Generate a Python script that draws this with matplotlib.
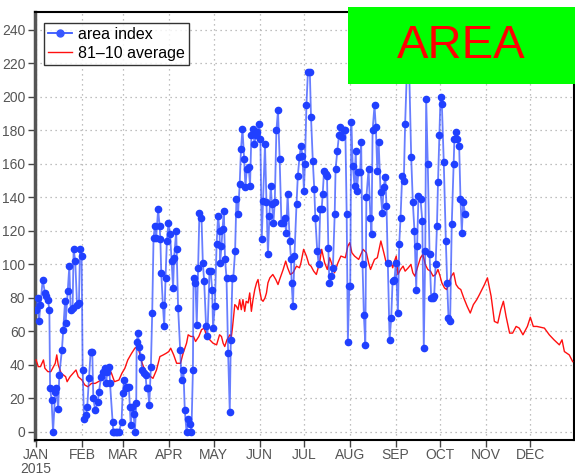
import matplotlib
matplotlib.use('Agg')
import matplotlib.pyplot as plt
from matplotlib.patches import Rectangle
import numpy as np

# daily area index, 2015 (day of year from Jan 1)
area_day = [0, 1, 2, 3, 4.5, 6, 7, 8, 9, 9.5, 10.5, 11.5, 13, 13.5, 15, 15.7, 17.5, 18.4, 19.6, 20,
            21.4, 22.5, 23.4, 24.7, 25.4, 26.5, 27.7, 29, 29.7, 30.8, 31.5, 32.4, 33.7, 34.6, 35.8,
            36.9, 38, 38.7, 40, 41.8, 42.5, 44, 45, 46.4, 47.5, 48, 49.5, 50, 51.7, 52.2, 53, 54, 55,
            56, 57.8, 58.5, 59.6, 60.7, 61.5, 62.7, 63.4, 64, 65, 65.9, 66.8, 67.7, 68, 69, 69.5, 71,
            71.7, 73, 74, 74.7, 75.6, 76.5, 77.6, 78.5, 79.4, 80.3, 81.2, 82.5, 83.5, 84, 84.6, 85.7,
            86.6, 87.5, 88.4, 89.5, 90.6, 91.6, 92.6, 93.3, 94.7, 95, 96, 97.4, 98.3, 99.6, 100.5,
            101.7, 102.8, 104, 105, 106, 106.4, 107.7, 108.6, 109.5, 110.4, 111.8, 112.7, 113.6,
            114.9, 115.8, 117.2, 118, 119, 119.6, 120.8, 122, 123, 124, 124.4, 125.3, 126, 126.9,
            127.7, 128.7, 129.8, 130.9, 131.6, 132.7, 133.3, 134.5, 135.4, 136.5, 137.6, 138.5,
            139.5, 140.6, 141.5, 142.4, 143.7, 144.6, 145.5, 146.6, 147.6, 148.5, 149.6, 150.7,
            151.6, 152.5, 153.4, 154.7, 155.7, 156.7, 157.7, 158.6, 159.4, 160.4, 161.3, 162.4,
            163.5, 164.6, 165.8, 166.7, 168, 169, 170, 171.4, 172.3, 172.7, 173.6, 174.6, 176, 176.9,
            178, 179, 180, 181, 181.7, 182.7, 183.7, 185, 185.8, 187, 188, 188.7, 190, 191, 192, 193,
            193.7, 194.6, 195.7, 196.6, 197.5, 198.2, 199.5, 200.6, 201.8, 202.4, 203.6, 204.7,
            205.6, 206.7, 207.8, 209, 209.9, 210.7, 211.7, 212.3, 213, 214, 215.2, 216, 216.8, 217.8,
            219, 219.7, 220.6, 221.5, 222.5, 223.2, 224.7, 225.9, 226.7, 227.4, 228.7, 229.6, 230.6,
            231.5, 232.8, 234, 234.8, 236, 236.8, 237.7, 238.9, 240, 240.9, 242.2, 243.1, 244.5,
            245.4, 246.3, 247.4, 248.5, 249.4, 251.5, 253.5, 254.6, 255.7, 256.9, 257.5, 258.4,
            259.8, 261, 262, 263, 263.6, 264.7, 265.9, 267, 268.3, 269, 270, 270.9, 271.6, 272.5,
            273.3, 274.2, 275.5, 276.9, 277.8, 278.7, 279.8, 280.9, 282.2, 282.7, 283.6, 284.6,
            285.9, 286.8, 287.7, 288.6, 290]
area_val = [73, 80, 66, 76, 91, 83, 81, 79, 73, 26, 19, 0, 24, 26, 14, 34, 49, 61, 78, 65,
            84, 99, 73, 74, 109, 102, 76, 77, 109, 105, 37, 8, 10, 15, 32,
            48, 48, 20, 13, 18, 24, 33, 36, 38, 29, 36, 39, 29, 6, 0, 0, 0, 0,
            0, 6, 23, 31, 26, 27, 27, 15, 4, 15, 11, 0, 17, 54, 59, 51, 45,
            37, 35, 34, 26, 26, 16, 39, 71, 116, 123, 116, 133, 123, 115, 95, 76,
            63, 92, 114, 125, 118, 102, 86, 104, 120, 109, 74, 49, 31, 37, 13,
            0, 8, 5, 0, 37, 92, 89, 64, 98, 131, 128, 101, 90,
            63, 57, 96, 96, 85, 62, 75, 112, 129, 120, 101, 111, 121, 132,
            103, 92, 47, 12, 55, 92, 92, 108, 139, 130, 148, 169,
            181, 163, 146, 157, 158, 147, 177, 181, 172, 177, 179, 184,
            175, 115, 138, 172, 137, 106, 129, 147, 136, 125, 137, 180,
            192, 163, 125, 125, 128, 119, 142, 114, 103, 89, 75, 105, 136, 153,
            164, 171, 165, 144, 160, 195, 215, 215, 188, 162, 145, 128, 108, 100, 133, 133,
            142, 156, 154, 153, 110, 89, 93, 98, 130, 157, 168, 177,
            182, 176, 180, 180, 130, 54, 87, 87, 185, 159, 147, 168, 144, 155,
            155, 173, 100, 70, 52, 140, 157, 128, 118, 180, 195, 182, 156,
            173, 143, 131, 146, 152, 135, 101, 55, 68, 90, 91, 101, 71,
            112, 128, 153, 150, 184, 240, 164, 137, 120, 85, 111, 141,
            139, 126, 50, 108, 199, 160, 106, 80, 80, 81, 100, 123, 149, 177,
            200, 196, 161, 114, 89, 68, 66, 124, 160, 175, 179, 175,
            171, 139, 119, 137, 130]

# 1981-2010 daily average
clim_day = [0, 1.5, 3, 5, 6, 8, 10, 13, 14, 15, 17, 20, 21, 23, 25, 27, 28.5, 31, 33, 35, 37.5, 40,
            42, 44, 46.5, 48.8, 51, 53, 56, 58, 60, 62, 64.6, 66.8, 68.6, 70, 71.7, 73.5, 76, 79,
            81.4, 83.7, 86, 88, 89.7, 91, 93, 95, 97.6, 99.4, 101.7, 102.8, 104.6, 106.4, 107.8,
            110, 111.8, 113.6, 115, 117.4, 119.6, 122, 124, 125.3, 126.4, 127.5, 129, 131, 132,
            132.7, 134.3, 135.4, 136.5, 137.6, 138.7, 139.8, 141, 142, 143.3, 144.4, 145.5, 146.6,
            147.8, 149, 150, 151, 152.3, 153.4, 154.7, 155.7, 156.7, 158, 160, 162, 163.5, 164.6,
            167, 168.7, 170, 171.8, 173.6, 176, 178, 179, 180.8, 182.7, 184.4, 185.8, 187.6, 189.4,
            191.6, 193, 195, 196.8, 198.4, 200, 201.7, 204, 206, 209, 210.7, 212, 213.4, 215.2,
            218, 221, 223.2, 224.7, 226, 228.7, 230.6, 232, 233, 235, 236.6, 237.7, 239.6, 241,
            242.2, 243.4, 244.5, 246.3, 248, 249.4, 251.5, 253.3, 254.6, 256, 258, 259.8, 261.4,
            263, 264.7, 266.5, 268.3, 270, 271.6, 273, 274.2, 276, 277.5, 279, 280.6, 282.2, 283.8,
            285.4, 287, 289, 291.3, 293.4, 295.5, 297.8, 299.6, 303, 305, 307.5, 309.7, 312, 314,
            315.8, 317.6, 320, 322, 324.4, 326.5, 329, 332, 334, 336, 338.4, 343.5, 346.8, 350,
            353.6, 355.4, 357, 360.3, 362.6]
clim_val = [43, 39, 39, 43, 38, 36, 36, 41, 46, 40, 35, 33, 30, 33, 35, 37, 33, 31, 28, 27, 29, 29,
            30, 31, 36, 39, 35, 30, 31, 35, 38, 43, 47, 50, 51, 47, 41, 37, 34, 32,
            37, 45, 46, 47, 48, 50, 46, 41, 41, 47, 53, 58, 57, 57, 54,
            57, 61, 62, 58, 55, 53, 52, 58, 57, 53, 51, 55, 58, 57,
            62, 76, 75, 73, 79, 73, 79, 72, 78, 77, 83, 72, 79,
            85, 89, 91, 85, 79, 78, 80, 83, 89, 92, 94, 91, 88, 91,
            97, 102, 98, 94, 95, 99, 98, 101, 109, 105, 100, 99, 96, 94,
            101, 109, 101, 97, 104, 100, 95, 101, 105, 104, 111, 113, 107, 105,
            103, 109, 107, 101, 97, 103, 104, 110, 114, 107, 101, 99, 102, 98,
            102, 105, 94, 97, 99, 96, 98, 100, 95, 93, 99, 104, 106,
            100, 97, 96, 93, 94, 97, 93, 89, 86, 85, 89, 93, 95, 88,
            86, 85, 80, 75, 71, 76, 79, 82, 88, 92, 81, 66, 65, 73,
            78, 69, 59, 59, 63, 62, 58, 63, 68.5, 63, 63, 62, 58, 55,
            52, 55, 48, 46, 42]

month_start = [0, 31, 59, 90, 120, 151, 181, 212, 243, 273, 304, 334]
month_names = ['JAN\n2015', 'FEB', 'MAR', 'APR', 'MAY', 'JUN', 'JUL', 'AUG', 'SEP', 'OCT', 'NOV', 'DEC']
y_ticks = list(range(0, 241, 20))

plt.rcParams['font.family'] = ['Liberation Sans Narrow', 'Liberation Sans']

fig = plt.figure(figsize=(5.75, 4.76), dpi=100)
ax = fig.add_axes([35 / 575, 1 - 440 / 476, 539 / 575, 428 / 476])

ax.plot(clim_day, clim_val, color='#ff1010', lw=1.0, label='81\u201310 average', zorder=3)
ax.plot(area_day, area_val, color='#2848ff', lw=1.3, alpha=0.7, zorder=4)
ax.plot(area_day, area_val, ls='none', marker='o', ms=4.5, color='#2040ff', zorder=5)
# legend proxy for the index (line + marker)
ax.plot([], [], color='#3858ff', lw=1.3, marker='o', ms=5, label='area index')

ax.set_xlim(-0.7, 363.5)
ax.set_ylim(-4.8, 250.7)
ax.set_xticks(month_start)
ax.set_xticklabels(month_names, linespacing=0.95)
ax.set_yticks(y_ticks)
ax.grid(True, color='#aaaaaa', ls=(0, (1, 3)), lw=0.9)
ax.tick_params(axis='both', direction='out', length=5, width=1, colors='#444444',
               labelsize=10, labelcolor='#555555')
ax.tick_params(axis='x', pad=1)
ax.tick_params(axis='y', pad=2)

for side in ['top', 'right', 'bottom']:
    ax.spines[side].set_linewidth(1.5)
    ax.spines[side].set_color('black')
ax.spines['left'].set_linewidth(2.5)
ax.spines['left'].set_color('#555555')

handles, labels = ax.get_legend_handles_labels()
leg = ax.legend(handles[::-1], labels[::-1], loc='upper left',
                bbox_to_anchor=(9 / 539, 1 - 11 / 428), borderaxespad=0,
                fontsize=11.5, frameon=True, fancybox=False, handlelength=1.5,
                handletextpad=0.4, borderpad=0.25, labelspacing=0.25)
leg.get_frame().set_edgecolor('black')
leg.get_frame().set_linewidth(1.0)

# title block
fig.patches.append(Rectangle((348 / 575, 1 - 84 / 476), 227 / 575, 77 / 476,
                             transform=fig.transFigure, facecolor='#00ff00',
                             edgecolor='none', zorder=10))
fig.text(461 / 575, 1 - 46 / 476, 'AREA', color='#ff0000', fontsize=34,
         family='Liberation Sans', ha='center', va='center', zorder=11)

fig.savefig('out.png', dpi=100)
